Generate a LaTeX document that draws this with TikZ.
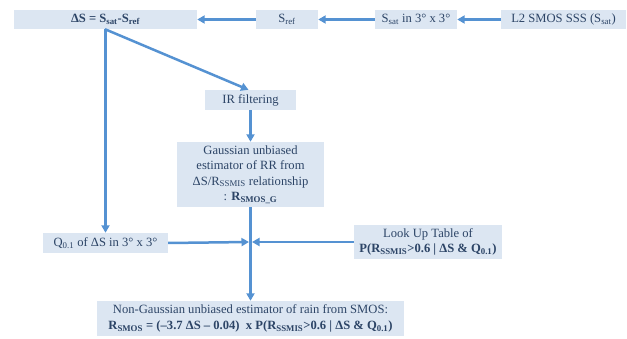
\documentclass[tikz,border=0pt]{standalone}
\usepackage{fontspec}
\setmainfont{Liberation Serif}
\usetikzlibrary{arrows.meta}
\definecolor{boxfill}{HTML}{DCE6F2}
\definecolor{arrowc}{HTML}{5592D2}
\definecolor{txt}{HTML}{2C4466}
\newcommand{\sbs}[1]{\textsubscript{#1}}
\begin{document}
\begin{tikzpicture}[x=1pt,y=-1pt,
  box/.style={fill=boxfill, draw=none, inner sep=0pt, align=center, text=txt,
    font=\fontsize{12.6}{15.3}\selectfont},
  conn/.style={draw=arrowc, line width=2.5pt, -{Triangle[length=7.5pt,width=8pt]}},
  plain/.style={draw=arrowc, line width=2.5pt}]
\useasboundingbox (0,0) rectangle (627,339);
\node[box, minimum width=183pt, minimum height=19pt] (A) at (105.5,19.5) {\textbf{ΔS = S\sbs{sat}-S\sbs{ref}}};
\node[box, minimum width=62pt, minimum height=19pt] (B) at (287,19.5) {S\sbs{ref}};
\node[box, minimum width=82pt, minimum height=19pt] (C) at (416,19.5) {S\sbs{sat} in 3° x 3°};
\node[box, minimum width=125pt, minimum height=19pt] (D) at (563.5,19.5) {L2 SMOS SSS (S\sbs{sat})};
\node[box, minimum width=91pt, minimum height=20pt] (E) at (250.5,100) {IR filtering};
\node[box, minimum width=147pt, minimum height=65pt] (F) at (250.5,174.5) {Gaussian unbiased\\estimator of RR from\\ΔS/R\sbs{SSMIS} relationship\\: \textbf{R\sbs{SMOS\_G}}};
\node[box, minimum width=125pt, minimum height=20pt] (G) at (105.5,243) {Q\sbs{0.1} of ΔS in 3° x 3°};
\node[box, minimum width=148pt, minimum height=34pt] (H) at (428,242) {Look Up Table of\\\textbf{P(R\sbs{SSMIS}>0.6 | ΔS \& Q\sbs{0.1})}};
\node[box, minimum width=307pt, minimum height=35pt] (I) at (250.5,318.5) {Non-Gaussian unbiased estimator of rain from SMOS:\\\textbf{R\sbs{SMOS} = (–3.7 ΔS – 0.04)\enspace x P(R\sbs{SSMIS}>0.6 | ΔS \& Q\sbs{0.1})}};
\coordinate (jl) at (249,242);
\coordinate (jr) at (252,242);
\draw[conn] (D.west) -- (C.east);
\draw[conn] (C.west) -- (B.east);
\draw[conn] (B.west) -- (A.east);
\draw[conn] (A.south) -- (G.north);
\draw[conn] ([xshift=-0.5pt]A.south) -- ([xshift=-2pt]E.north);
\draw[conn] (E.south) -- (F.north);
\draw[conn] (F.south) -- (I.north);
\draw[conn] (G.east) -- (jl);
\draw[conn] (H.west) -- (jr);
\end{tikzpicture}
\end{document}
